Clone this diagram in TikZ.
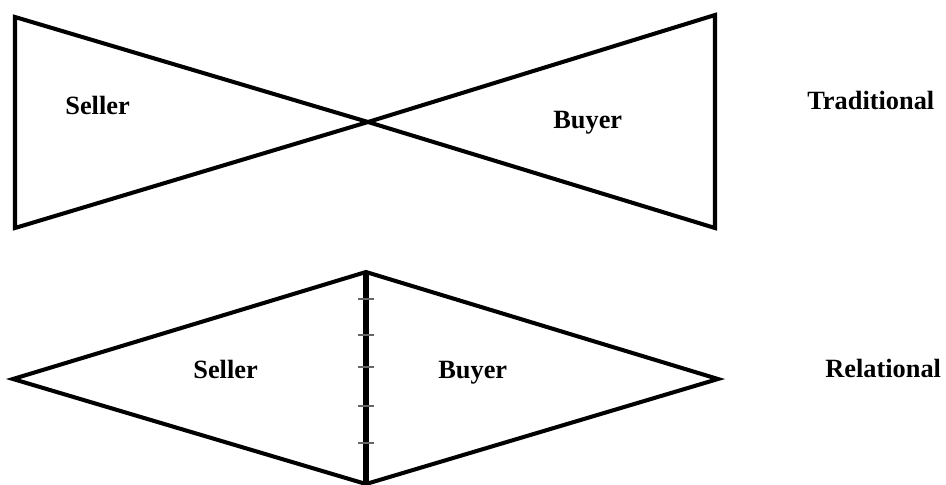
\documentclass[tikz,border=0pt]{standalone}
\usepackage{fontspec}
\setmainfont{Liberation Serif}
\begin{document}
\begin{tikzpicture}[x=0.02cm,y=-0.02cm,
  outline/.style={line width=2.3pt,line join=miter},
  spine/.style={line width=3pt},
  tick/.style={line width=1pt,draw=black!60},
  label/.style={font=\fontsize{15}{18}\selectfont\bfseries,inner sep=0pt,anchor=base west}]
\useasboundingbox (0,0) rectangle (946,484);
% traditional model: two opposed triangles meeting at a point
\coordinate (tl1) at (15,17);
\coordinate (tl2) at (15,228);
\coordinate (tc) at (368,122);
\coordinate (tr1) at (715,15);
\coordinate (tr2) at (715,228);
\draw[outline] (tc) -- (tl1) -- (tl2) -- cycle;
\draw[outline] (tc) -- (tr1) -- (tr2) -- cycle;
\node[label] (ts) at (65,114) {Seller};
\node[label] (tb) at (553,128) {Buyer};
\node[label] (trad) at (807,109) {Traditional};
% relational model: a diamond split by a shared boundary
\coordinate (rl) at (13,379);
\coordinate (rt) at (366,272);
\coordinate (rb) at (366,484);
\coordinate (rr) at (718,379);
\draw[outline] (rl) -- (rt) -- (rr) -- (rb) -- cycle;
\draw[spine] (rt) -- (rb);
\foreach \y in {299,335,367,406,443}
  \draw[tick] (358,\y) -- (374,\y);
\node[label] (rs) at (193,378) {Seller};
\node[label] (rbu) at (438,378) {Buyer};
\node[label] (rel) at (825,377) {Relational};
\end{tikzpicture}
\end{document}
